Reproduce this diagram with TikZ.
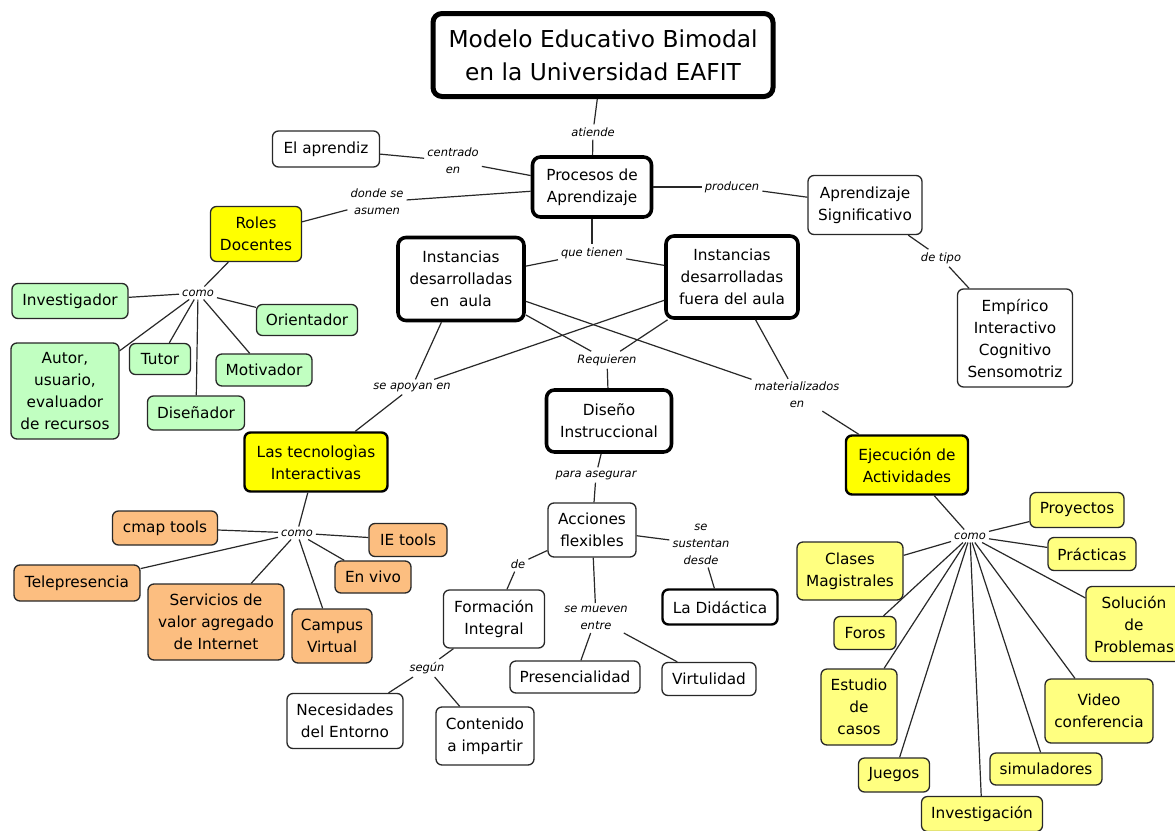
\documentclass[tikz,border=0pt]{standalone}
\usepackage{fontspec}
\setmainfont{DejaVu Sans}
\definecolor{amarillo}{RGB}{255,255,0}
\definecolor{amarillop}{RGB}{255,255,128}
\definecolor{verde}{RGB}{193,255,193}
\definecolor{naranja}{RGB}{252,190,128}
\definecolor{borde}{RGB}{40,40,40}
\begin{document}
\begin{tikzpicture}
      [%%%%%%%%%%%%%%%%%%%%%%%%%%%%%%
      x=1pt,y=-1pt,
      concept/.style={rectangle,rounded corners=6pt,draw=borde,line width=1.3pt,fill=white,
        align=center,inner sep=2pt,font=\fontsize{15.3}{22}\selectfont},
      keybox/.style={concept,draw=black,line width=3.6pt,rounded corners=8pt},
      titlebox/.style={concept,draw=black,line width=5pt,rounded corners=9pt,
        font=\fontsize{23.3}{33}\selectfont},
      midbox/.style={concept,draw=black,line width=2.4pt},
      wh/.style 2 args={minimum width=#1pt,minimum height=#2pt},
      lbl/.style={align=center,inner sep=3pt,font=\fontsize{11.5}{17}\selectfont\itshape},
      link/.style={draw=borde,line width=1.2pt},
      ]%%%%%%%%%%%%%%%%%%%%%%%%%%%%%%

      \useasboundingbox[fill=white] (0,0) rectangle (1175,830);

      % concepts
      \node[titlebox,wh={340}{83}] (modelo) at (603,55) {Modelo Educativo Bimodal\\en la Universidad EAFIT};
      \node[keybox,wh={119}{60}] (proc) at (592,187) {Procesos de\\Aprendizaje};
      \node[concept,wh={107}{36}] (aprendiz) at (326,149) {El aprendiz};
      \node[concept,fill=amarillo,wh={91}{55}] (roles) at (256,234) {Roles\\Docentes};
      \node[concept,wh={114}{59}] (signif) at (865,205) {Aprendizaje\\Significativo};
      \node[keybox,wh={126}{83}] (aula) at (461,279) {Instancias\\desarrolladas\\en\ \ aula};
      \node[keybox,wh={132}{82}] (fuera) at (732,277) {Instancias\\desarrolladas\\fuera del aula};
      \node[concept,wh={115}{98}] (empirico) at (1015,338) {Empírico\\Interactivo\\Cognitivo\\Sensomotriz};

      \node[concept,fill=verde,wh={116}{35}] (investigador) at (70,301) {Investigador};
      \node[concept,fill=verde,wh={101}{31}] (orientador) at (307,320) {Orientador};
      \node[concept,fill=verde,wh={108}{96}] (autor) at (65,391) {Autor,\\usuario,\\evaluador\\de recursos};
      \node[concept,fill=verde,wh={61}{31}] (tutor) at (160,359) {Tutor};
      \node[concept,fill=verde,wh={96}{32}] (motivador) at (264,370) {Motivador};
      \node[concept,fill=verde,wh={97}{34}] (disenador) at (196,413) {Diseñador};

      \node[midbox,fill=amarillo,wh={143}{59}] (tecno) at (316,462) {Las tecnologìas\\Interactivas};
      \node[keybox,wh={125}{62}] (diseno) at (609,421) {Diseño\\Instruccional};
      \node[midbox,fill=amarillo,wh={122}{59}] (ejec) at (907,465) {Ejecución de\\Actividades};

      \node[concept,fill=naranja,wh={105}{34}] (cmap) at (165,528) {cmap tools};
      \node[concept,fill=naranja,wh={78}{33}] (ietools) at (408,540) {IE tools};
      \node[concept,fill=naranja,wh={126}{36}] (tele) at (77,583) {Telepresencia};
      \node[concept,fill=naranja,wh={76}{32}] (envivo) at (373,577) {En vivo};
      \node[concept,fill=naranja,wh={136}{76}] (servicios) at (216,622) {Servicios de\\valor agregado\\de Internet};
      \node[concept,fill=naranja,wh={80}{54}] (campus) at (332,636) {Campus\\Virtual};

      \node[concept,wh={88}{54}] (acciones) at (592,530) {Acciones\\flexibles};
      \node[midbox,wh={115}{35}] (didactica) at (720,607) {La Didáctica};
      \node[concept,wh={101}{58}] (formacion) at (494,619) {Formación\\Integral};
      \node[concept,wh={130}{32}] (presencial) at (575,677) {Presencialidad};
      \node[concept,wh={94}{33}] (virtul) at (709,679) {Virtulidad};
      \node[concept,wh={116}{55}] (necesidades) at (345,721) {Necesidades\\del Entorno};
      \node[concept,wh={98}{58}] (contenido) at (485,736) {Contenido\\a impartir};

      \node[concept,fill=amarillop,wh={94}{35}] (proyectos) at (1077,510) {Proyectos};
      \node[concept,fill=amarillop,wh={88}{33}] (practicas) at (1092,554) {Prácticas};
      \node[concept,fill=amarillop,wh={106}{58}] (clases) at (850,571) {Clases\\Magistrales};
      \node[concept,fill=amarillop,wh={96}{75}] (solucion) at (1134,624) {Solución\\de\\Problemas};
      \node[concept,fill=amarillop,wh={62}{33}] (foros) at (865,633) {Foros};
      \node[concept,fill=amarillop,wh={76}{76}] (estudio) at (859,707) {Estudio\\de\\casos};
      \node[concept,fill=amarillop,wh={108}{64}] (video) at (1099,711) {Video\\conferencia};
      \node[concept,fill=amarillop,wh={71}{34}] (juegos) at (894,775) {Juegos};
      \node[concept,fill=amarillop,wh={112}{32}] (simuladores) at (1046,769) {simuladores};
      \node[concept,fill=amarillop,wh={121}{35}] (investigacion) at (982,814) {Investigación};

      % linking phrases
      \node[lbl] (latiende) at (593,132) {atiende};
      \node[lbl] (lcentrado) at (453,161) {centrado\\en};
      \node[lbl] (ldonde) at (377,202) {donde se\\asumen};
      \node[lbl] (lproducen) at (732,187) {producen};
      \node[lbl] (ltienen) at (592,253) {que tienen};
      \node[lbl] (ltipo) at (941,258) {de tipo};
      \node[lbl] (lcomoroles) at (198,293) {como};
      \node[lbl] (lrequieren) at (607,360) {Requieren};
      \node[lbl] (lapoyan) at (412,387) {se apoyan en};
      \node[lbl] (lmaterial) at (797,395) {materializados\\en};
      \node[lbl] (lasegurar) at (596,475) {para asegurar};
      \node[lbl] (lcomotec) at (297,533) {como};
      \node[lbl] (lcomoejec) at (970,536) {como};
      \node[lbl] (lsustentan) at (701,544) {se\\sustentan\\desde};
      \node[lbl] (lde) at (518,564) {de};
      \node[lbl] (lmueven) at (596,618) {se mueven\\entre};
      \node[lbl] (lsegun) at (427,668) {según};

      % connectors
      \foreach \a/\b in {modelo/latiende,latiende/proc,
        proc/lcentrado,lcentrado/aprendiz,proc/ldonde,ldonde/roles,
        proc/lproducen,lproducen/signif,proc/ltienen,ltienen/aula,ltienen/fuera,
        signif/ltipo,ltipo/empirico,
        aula/lrequieren,fuera/lrequieren,lrequieren/diseno,
        aula/lapoyan,fuera/lapoyan,lapoyan/tecno,
        aula/lmaterial,fuera/lmaterial,lmaterial/ejec,
        diseno/lasegurar,lasegurar/acciones,
        acciones/lde,lde/formacion,acciones/lsustentan,lsustentan/didactica,
        acciones/lmueven,lmueven/presencial,lmueven/virtul,
        formacion/lsegun,lsegun/necesidades,lsegun/contenido}
        \draw[link] (\a) -- (\b);

      \foreach \b in {investigador,orientador,autor,tutor,motivador,disenador}
        \draw[link] (lcomoroles) -- (\b);
      \draw[link] (roles) -- (lcomoroles);

      \foreach \b in {cmap,ietools,tele,envivo,servicios,campus}
        \draw[link] (lcomotec) -- (\b);
      \draw[link] (tecno) -- (lcomotec);

      \foreach \b in {proyectos,practicas,clases,solucion,foros,estudio,video,juegos,simuladores,investigacion}
        \draw[link] (lcomoejec) -- (\b);
      \draw[link] (ejec) -- (lcomoejec);
    \end{tikzpicture}
\end{document}
